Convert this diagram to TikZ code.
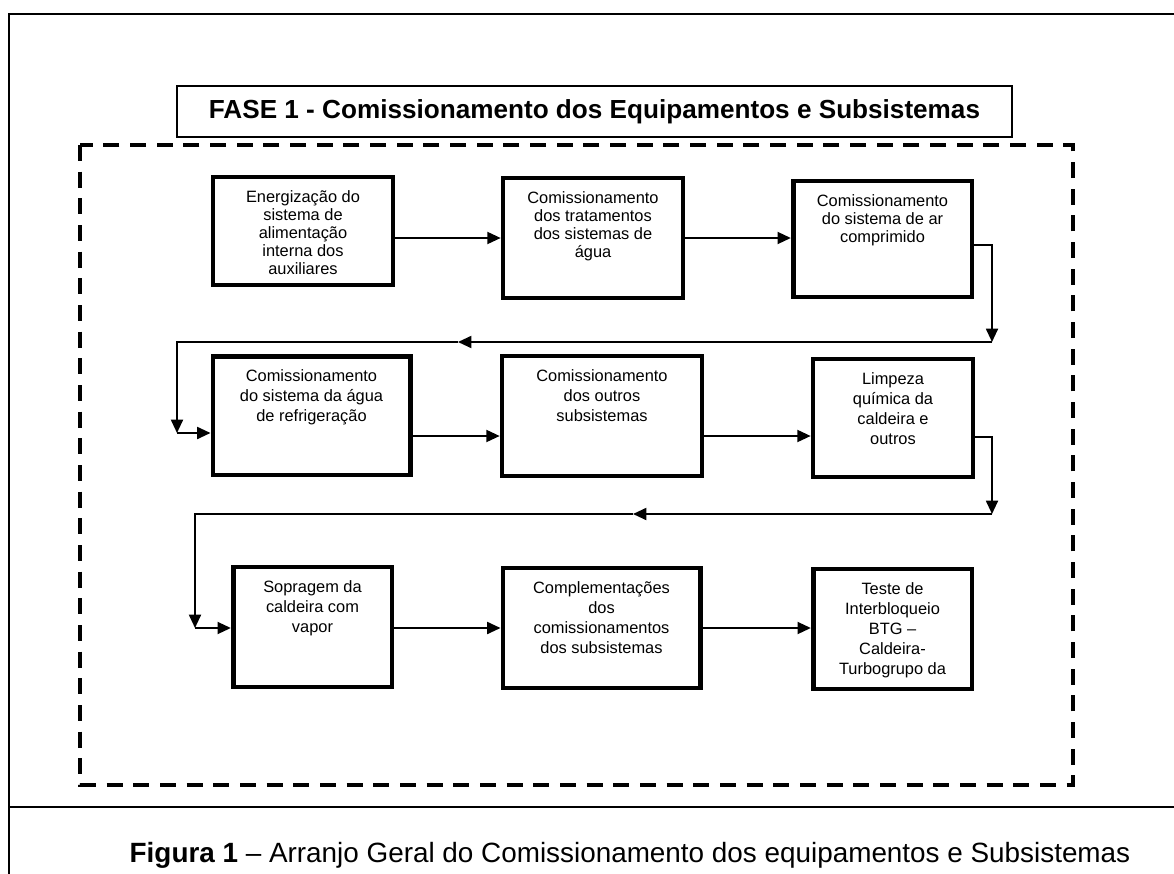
\documentclass[tikz,border=0pt]{standalone}
\usepackage{fontspec}
\setmainfont{Liberation Sans}
\usetikzlibrary{arrows.meta,calc,positioning}
\tikzset{>={Triangle[length=10pt,width=9pt]}}
\tikzset{
  procbox/.style={draw, line width=3.5pt, inner sep=0pt, font=\fontsize{12.3}{15}\selectfont},
  titlebox/.style={draw, line width=1.1pt, minimum width=626pt, minimum height=38pt, font=\bfseries\fontsize{19.6}{22}\selectfont},
  flow/.style={line width=1.4pt, ->},
  frameline/.style={line width=1.1pt},
  dashbox/.style={line width=3pt, dash pattern=on 12pt off 8pt}
}
\newcommand{\boxtext}[3]{\parbox[c][#2][t]{#1}{\centering\vspace*{10pt}#3\par}}

\begin{document}
\begin{tikzpicture}[x=0.75pt,y=-0.75pt]
            \fill[white] (0,0) rectangle (1174,874);
            \useasboundingbox (0,0) rectangle (1174,874);

            \draw[frameline] (1174,14) -- (9,14) -- (9,874);
            \draw[frameline] (9,807) -- (1174,807);

            \node[titlebox] (title) at (594.5,111.5) {FASE 1 - Comissionamento dos Equipamentos e Subsistemas};

            \draw[dashbox] (80,145) rectangle (1073,785);

            % first row
            \node[procbox, font=\fontsize{12.3}{13.5}\selectfont] (b1) at (303,231)
                {\boxtext{135pt}{81pt}{Energização do\\ sistema de\\ alimentação\\ interna dos\\ auxiliares}};
            \node[procbox, font=\fontsize{12.3}{13.5}\selectfont] (b2) at (593,238)
                {\boxtext{135pt}{90pt}{Comissionamento\\ dos tratamentos\\ dos sistemas de\\ água}};
            \node[procbox, font=\fontsize{12.3}{13.5}\selectfont] (b3) at (882.5,239)
                {\boxtext{134pt}{87pt}{Comissionamento\\ do sistema de ar\\ comprimido}};

            % second row
            \node[procbox] (b4) at (311.5,415.5)
                {\boxtext{148pt}{89pt}{Comissionamento\\ do sistema da água\\ de refrigeração}};
            \node[procbox] (b5) at (602,416)
                {\boxtext{150pt}{90pt}{Comissionamento\\ dos outros\\ subsistemas}};
            \node[procbox] (b6) at (893,418)
                {\boxtext{120pt}{88.5pt}{Limpeza\\ química da\\ caldeira e\\ outros}};

            % third row
            \node[procbox] (b7) at (312.5,627)
                {\boxtext{119pt}{90pt}{Sopragem da\\ caldeira com\\ vapor}};
            \node[procbox] (b8) at (601.5,628)
                {\boxtext{148pt}{90pt}{Complementações\\ dos\\ comissionamentos\\ dos subsistemas}};
            \node[procbox] (b9) at (892.5,629)
                {\boxtext{119pt}{90pt}{Teste de\\ Interbloqueio\\ BTG --\\ Caldeira-\\ Turbogrupo da}};

            \coordinate (y2) at (0,436);
            \coordinate (y3) at (0,628);

            \draw[flow] (b1.east |- b2.west) -- (b2.west);
            \draw[flow] (b2.east) -- (b2.east -| b3.west);

            \coordinate (r1a) at (992,245);
            \coordinate (r1b) at (992,342);
            \coordinate (r1m) at (458,342);
            \coordinate (r1c) at (177,342);
            \coordinate (r1d) at (177,433);
            \draw[flow] (b3.east |- r1a) -- (r1a) -- (r1b);
            \draw[flow] (r1b) -- (r1m);
            \draw[flow] (r1m) -- (r1c) -- (r1d);
            \draw[flow] (r1d) -- (b4.west |- r1d);

            \draw[flow] (b4.east |- y2) -- (b5.west |- y2);
            \draw[flow] (b5.east |- y2) -- (b6.west |- y2);

            \coordinate (r2a) at (992,437);
            \coordinate (r2b) at (992,514);
            \coordinate (r2m) at (633,514);
            \coordinate (r2c) at (195,514);
            \coordinate (r2d) at (195,628);
            \draw[flow] (b6.east |- r2a) -- (r2a) -- (r2b);
            \draw[flow] (r2b) -- (r2m);
            \draw[flow] (r2m) -- (r2c) -- (r2d);
            \draw[flow] (r2d) -- (b7.west |- r2d);

            \draw[flow] (b7.east |- y3) -- (b8.west |- y3);
            \draw[flow] (b8.east |- y3) -- (b9.west |- y3);

            \node[anchor=base, font=\fontsize{20.9}{24}\selectfont] (caption) at (630,862)
                {\textbf{Figura 1} -- Arranjo Geral do Comissionamento dos equipamentos e Subsistemas};
\end{tikzpicture}
\end{document}
